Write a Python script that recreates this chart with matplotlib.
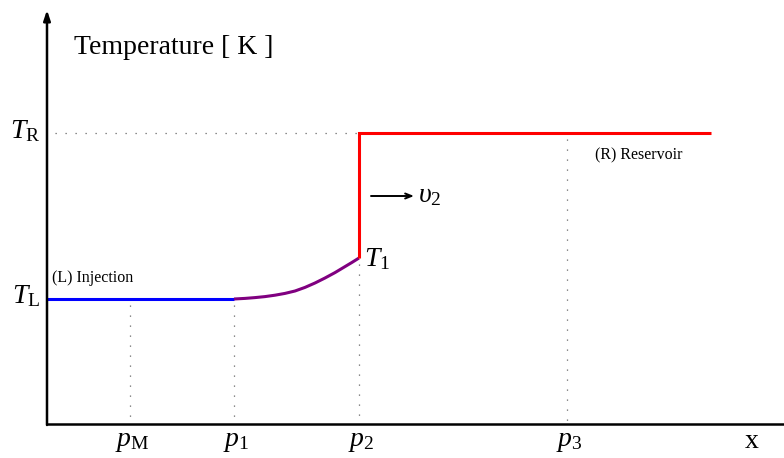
import numpy as np
import matplotlib
matplotlib.use("Agg")
import matplotlib.pyplot as plt

plt.rcParams["font.family"] = ["Liberation Serif", "DejaVu Serif"]
plt.rcParams["mathtext.fontset"] = "custom"
plt.rcParams["mathtext.rm"] = "Liberation Serif"
plt.rcParams["mathtext.it"] = "Liberation Serif:italic"

# Positions along x (pixel-like units) and temperature levels (screen units, downward)
x_axis = 47
x_bottom = 424
p_labels = [r"$p_{\rm M}$", r"$p_1$", r"$p_2$", r"$p_3$"]
p_pos = [130, 234, 359, 567]
T_L = 299
T_R = 133
T_1 = 258
x_end = 711

# Rarefaction profile between p1 and p2
curve_x = [234, 245, 255, 265, 275, 285, 295, 305, 315, 325, 335, 345, 352, 359]
curve_T = [299, 298.4, 297.6, 296.6, 295.2, 293.4, 291.0, 287.4, 283.0, 278.0, 272.6, 266.6, 262.4, 258]

fig = plt.figure(figsize=(7.84, 4.58), dpi=100)
ax = fig.add_axes([0, 0, 1, 1])
ax.set_xlim(0, 784)
ax.set_ylim(458, 0)
ax.axis("off")

# axes
ax.annotate("", xy=(x_axis, 10), xytext=(x_axis, x_bottom + 1),
            arrowprops=dict(arrowstyle="-|>,head_length=0.6,head_width=0.2",
                            lw=1.8, color="black", shrinkA=0, shrinkB=0))
ax.plot([x_axis, 784], [x_bottom, x_bottom], color="black", lw=1.8, solid_capstyle="butt")

# dotted guides
dot = dict(color="#666666", lw=0.9, linestyle=(0, (1, 7)))
ax.plot([x_axis + 8, p_pos[2]], [T_R, T_R], **dot)
ax.plot([p_pos[0], p_pos[0]], [T_L + 6, x_bottom], **dot)
ax.plot([p_pos[1], p_pos[1]], [T_L + 6, x_bottom], **dot)
ax.plot([p_pos[2], p_pos[2]], [T_1 + 6, x_bottom], **dot)
ax.plot([p_pos[3], p_pos[3]], [T_R + 6, x_bottom], **dot)

# temperature profile
ax.plot([x_axis, p_pos[1]], [T_L, T_L], color="#0000ff", lw=2.2, solid_capstyle="butt")
ax.plot(curve_x, curve_T, color="#800080", lw=2.2, solid_capstyle="butt")
ax.plot([p_pos[2], p_pos[2], x_end], [T_1, T_R, T_R], color="#ff0000", lw=2.2,
        solid_joinstyle="miter", solid_capstyle="butt")

# labels
ax.text(74, 47, "Temperature [ K ]", fontsize=20, va="center", ha="left")
ax.text(40, T_R - 2, r"$T_{\rm R}$", fontsize=20, va="center", ha="right")
ax.text(40, T_L - 3, r"$T_{\rm L}$", fontsize=20, va="center", ha="right")
ax.text(364, T_1 + 1, r"$T_1$", fontsize=20, va="center", ha="left")
ax.text(52, 278, "(L) Injection", fontsize=11.5, va="center", ha="left")
ax.text(595, 155, "(R) Reservoir", fontsize=11.5, va="center", ha="left")
for lab, xp in zip(p_labels, p_pos):
    ax.text(xp + 2, 441, lab, fontsize=20, va="center", ha="center")
ax.text(752, 442, "x", fontsize=20, va="center", ha="center")

ax.annotate("", xy=(414, 196), xytext=(371, 196),
            arrowprops=dict(arrowstyle="->,head_length=0.45,head_width=0.18",
                            lw=1.4, color="black", shrinkA=0, shrinkB=0))
ax.text(418, 196, r"$\upsilon_2$", fontsize=20, va="center", ha="left")

fig.savefig("out.png", dpi=100)
